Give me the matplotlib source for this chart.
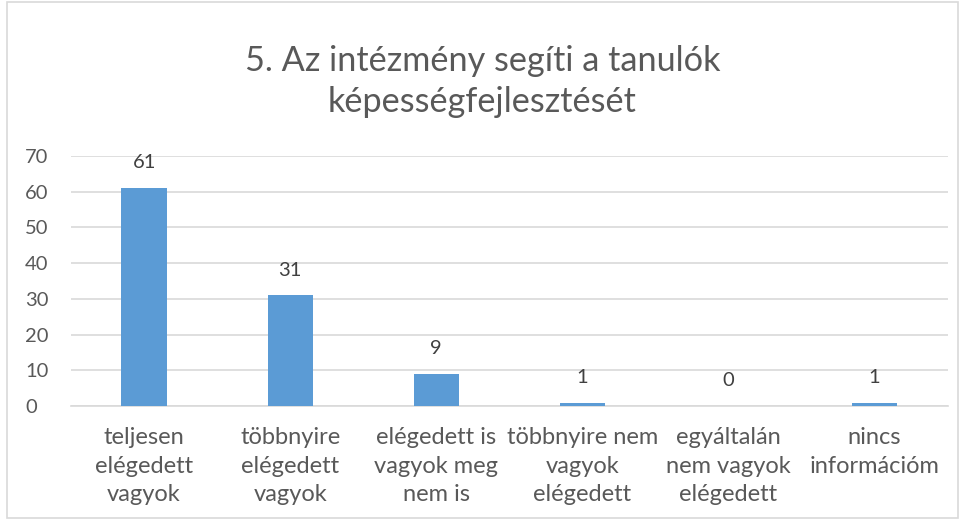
import matplotlib
matplotlib.use('Agg')
import matplotlib.pyplot as plt
from matplotlib.patches import Rectangle

categories = [
    "teljesen\nelégedett\nvagyok",
    "többnyire\nelégedett\nvagyok",
    "elégedett is\nvagyok meg\nnem is",
    "többnyire nem\nvagyok\nelégedett",
    "egyáltalán\nnem vagyok\nelégedett",
    "nincs\ninformációm",
]
values = [61, 31, 9, 1, 0, 1]
y_ticks = [0, 10, 20, 30, 40, 50, 60, 70]
title = "5. Az intézmény segíti a tanulók\nképességfejlesztését"

text_color = '#595959'
bar_color = '#5B9BD5'
grid_color = '#D9D9D9'

plt.rcParams['font.family'] = ['Lato', 'DejaVu Sans']

fig = plt.figure(figsize=(9.65, 5.2), dpi=100)
ax = fig.add_axes([0.0736, 0.219, 0.9084, 0.481])

# chart border
fig.patches.append(Rectangle((0.007, 0.004), 0.986, 0.992, transform=fig.transFigure,
                             fill=False, edgecolor=grid_color, linewidth=1.2))

x = list(range(len(values)))
ax.bar(x, values, width=0.31, color=bar_color, zorder=3)

for xi, v in zip(x, values):
    ax.annotate(str(v), (xi, v), xytext=(0, 12), textcoords='offset points',
                ha='center', va='bottom', fontsize=14.5, color='#404040')

ax.set_xlim(-0.5, len(values) - 0.5)
ax.set_ylim(0, 70)
ax.set_yticks(y_ticks)
ax.set_xticks(x)
ax.set_xticklabels(categories, linespacing=1.45, fontsize=17)
ax.tick_params(axis='both', length=0, colors=text_color)
ax.tick_params(axis='y', labelsize=14.5, pad=33)
ax.tick_params(axis='x', pad=15)
for lbl in ax.get_yticklabels():
    lbl.set_horizontalalignment('left')

ax.grid(axis='y', color=grid_color, linewidth=1.2, zorder=0)
for side in ['top', 'right', 'left']:
    ax.spines[side].set_visible(False)
ax.spines['bottom'].set_color(grid_color)
ax.spines['bottom'].set_linewidth(1.2)

fig.text(0.5, 0.843, title, ha='center', va='center', fontsize=24.7,
         color=text_color, linespacing=1.32)

plt.savefig('out.png', dpi=100)
plt.close()
